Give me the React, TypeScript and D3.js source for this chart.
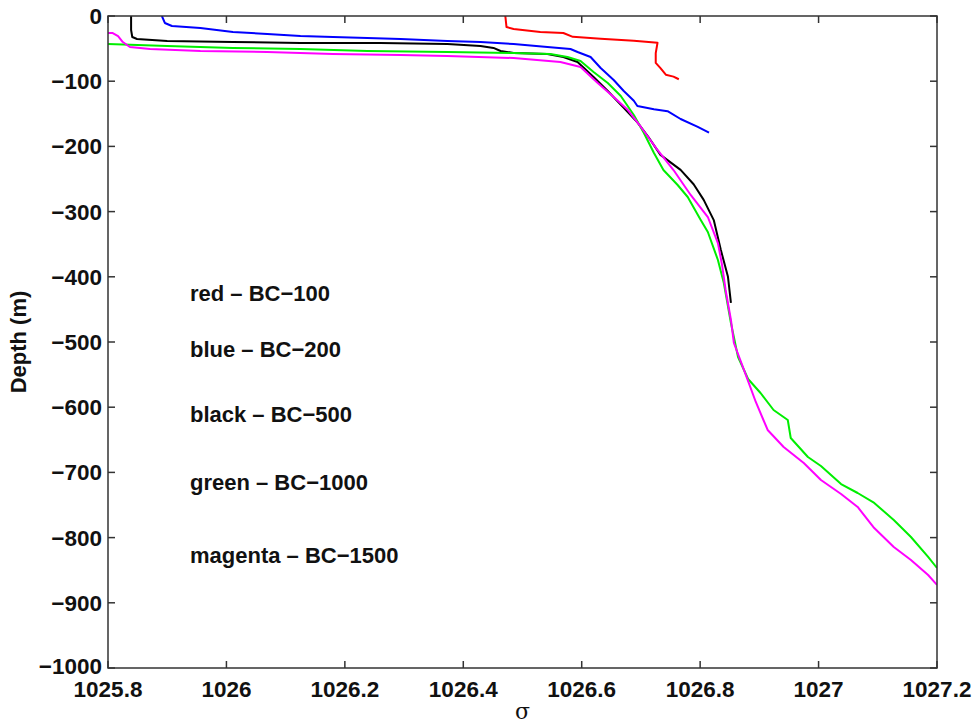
import React from "react";
import * as d3 from "d3";

const xTicks = [1025.8, 1026, 1026.2, 1026.4, 1026.6, 1026.8, 1027, 1027.2];
const xTickLabels = ["1025.8", "1026", "1026.2", "1026.4", "1026.6", "1026.8", "1027", "1027.2"];
const yTicks = [0, -100, -200, -300, -400, -500, -600, -700, -800, -900, -1000];

const redSigma = [1026.471, 1026.473, 1026.485, 1026.53, 1026.569, 1026.585, 1026.632, 1026.688, 1026.728, 1026.725, 1026.725, 1026.733, 1026.742, 1026.755, 1026.764];
const redDepth = [0, -16.9, -19.9, -24.5, -26, -32, -35, -38, -41, -57, -72, -80, -90, -93, -97];

const blueSigma = [1025.891, 1025.896, 1025.908, 1025.956, 1026.011, 1026.069, 1026.125, 1026.18, 1026.238, 1026.294, 1026.373, 1026.429, 1026.485, 1026.542, 1026.581, 1026.593, 1026.615, 1026.632, 1026.654, 1026.671, 1026.688, 1026.694, 1026.722, 1026.745, 1026.767, 1026.796, 1026.815];
const blueDepth = [0, -10.7, -15.3, -18.4, -24.5, -27.6, -30.7, -32.2, -33.7, -35.3, -38.3, -39.9, -42.9, -47.5, -50.6, -55.2, -62.9, -79.8, -98.2, -115, -130, -138, -143, -146, -158, -170, -179];

const blackSigma = [1025.839, 1025.839, 1025.841, 1025.849, 1025.9, 1026.011, 1026.125, 1026.26, 1026.373, 1026.429, 1026.451, 1026.463, 1026.485, 1026.542, 1026.569, 1026.593, 1026.62, 1026.644, 1026.671, 1026.694, 1026.713, 1026.733, 1026.767, 1026.789, 1026.806, 1026.823, 1026.835, 1026.847, 1026.852];
const blackDepth = [0, -21.5, -32.2, -35.3, -38.3, -39.9, -41.4, -41.4, -42.9, -46, -49, -53.7, -56.7, -58.3, -62.9, -70.6, -93.6, -115, -141, -163, -186, -213, -236, -258, -282, -313, -359, -400, -440];

const greenSigma = [1025.8, 1025.9, 1026.011, 1026.125, 1026.238, 1026.373, 1026.485, 1026.547, 1026.576, 1026.598, 1026.62, 1026.644, 1026.666, 1026.688, 1026.705, 1026.722, 1026.738, 1026.762, 1026.779, 1026.801, 1026.813, 1026.83, 1026.84, 1026.852, 1026.864, 1026.881, 1026.902, 1026.924, 1026.948, 1026.953, 1026.982, 1027.004, 1027.038, 1027.066, 1027.094, 1027.127, 1027.156, 1027.185, 1027.2];
const greenDepth = [-42.9, -46, -49.1, -50.6, -53.7, -55.2, -56.7, -58.3, -62.9, -69, -85.9, -102.8, -122.7, -151.8, -179.5, -210.1, -236.2, -259.2, -277.6, -312.9, -331.3, -374.2, -409.5, -470.8, -523, -556.7, -578.2, -604.3, -619.6, -647.2, -676.4, -690.2, -717.8, -731.6, -746.9, -773, -799.1, -829.7, -846.6];

const magentaSigma = [1025.8, 1025.808, 1025.817, 1025.825, 1025.837, 1025.871, 1025.956, 1026.069, 1026.18, 1026.294, 1026.373, 1026.485, 1026.564, 1026.598, 1026.627, 1026.654, 1026.678, 1026.7, 1026.728, 1026.755, 1026.784, 1026.813, 1026.83, 1026.837, 1026.843, 1026.852, 1026.857, 1026.874, 1026.894, 1026.914, 1026.941, 1026.975, 1027.004, 1027.038, 1027.066, 1027.094, 1027.127, 1027.156, 1027.185, 1027.2];
const magentaDepth = [-26.1, -26.1, -30.7, -39.9, -47.5, -50.6, -53.7, -55.2, -58.3, -59.8, -61.3, -64.4, -70.6, -78.2, -102.8, -124.2, -144.2, -170.2, -205.5, -236.2, -274.5, -308.3, -348.2, -381.9, -420.2, -466.2, -501.5, -542.9, -592, -634.9, -661, -685.6, -711.6, -733.1, -753, -785.3, -814.4, -834.3, -857.3, -872.6];

const seriesNames = ["red", "blue", "black", "green", "magenta"];
const seriesColors = ["#ff0000", "#0000ff", "#000000", "#00ee00", "#ff00ff"];
const legendLabels = ["red \u2013 BC\u2212100", "blue \u2013 BC\u2212200", "black \u2013 BC\u2212500", "green \u2013 BC\u22121000", "magenta \u2013 BC\u22121500"];

const seriesSigma = [redSigma, blueSigma, blackSigma, greenSigma, magentaSigma];
const seriesDepth = [redDepth, blueDepth, blackDepth, greenDepth, magentaDepth];

const W = 973;
const H = 724;
const L = 108;
const R = 937;
const T = 16;
const B = 668;

export default function App() {
  const x = d3.scaleLinear().domain([1025.8, 1027.2]).range([L, R]);
  const y = d3.scaleLinear().domain([0, -1000]).range([T, B]);
  const line = d3
    .line<[number, number]>()
    .x((d) => x(d[0]))
    .y((d) => y(d[1]));

  const font = "'Liberation Sans', Arial, Helvetica, sans-serif";
  const tickLen = 7;
  const axisColor = "#333";
  const legendY = [-437, -523, -623, -727, -839];
  const fmtY = (v: number) => (v < 0 ? "\u2212" + Math.abs(v) : String(v));

  return (
    <svg
      width={W}
      height={H}
      style={{ position: "absolute", left: 0, top: 0, background: "#fff" }}
    >
      <rect x={0} y={0} width={W} height={H} fill="#fff" />
      <defs>
        <clipPath id="plotclip">
          <rect x={L} y={T} width={R - L} height={B - T} />
        </clipPath>
      </defs>
      <g clipPath="url(#plotclip)">
        {seriesNames.map((name, i) => {
          const pts: [number, number][] = seriesSigma[i].map((s, j) => [s, seriesDepth[i][j]]);
          return (
            <path
              key={name}
              d={line(pts) || ""}
              fill="none"
              stroke={seriesColors[i]}
              strokeWidth={2}
              strokeLinejoin="round"
            />
          );
        })}
      </g>
      <rect x={L} y={T} width={R - L} height={B - T} fill="none" stroke={axisColor} strokeWidth={1.5} />
      {xTicks.map((t, i) => (
        <g key={"xt" + i}>
          <line x1={x(t)} x2={x(t)} y1={B} y2={B - tickLen} stroke={axisColor} strokeWidth={1.5} />
          <line x1={x(t)} x2={x(t)} y1={T} y2={T + tickLen} stroke={axisColor} strokeWidth={1.5} />
          <text
            x={x(t)}
            y={697}
            textAnchor="middle"
            fontFamily={font}
            fontWeight="bold"
            fontSize={22.5}
            fill="#111"
          >
            {xTickLabels[i]}
          </text>
        </g>
      ))}
      {yTicks.map((t, i) => (
        <g key={"yt" + i}>
          <line x1={L} x2={L + tickLen} y1={y(t)} y2={y(t)} stroke={axisColor} strokeWidth={1.5} />
          <line x1={R} x2={R - tickLen} y1={y(t)} y2={y(t)} stroke={axisColor} strokeWidth={1.5} />
          <text
            x={102}
            y={y(t) + (t === -1000 ? 6 : 8)}
            textAnchor="end"
            fontFamily={font}
            fontWeight="bold"
            fontSize={22.5}
            fill="#111"
          >
            {fmtY(t)}
          </text>
        </g>
      ))}
      {legendLabels.map((lab, i) => (
        <text
          key={"lg" + i}
          x={190}
          y={y(legendY[i])}
          fontFamily={font}
          fontWeight="bold"
          fontSize={22}
          fill="#111"
        >
          {lab}
        </text>
      ))}
      <text
        transform={`translate(26, ${(T + B) / 2}) rotate(-90)`}
        textAnchor="middle"
        fontFamily={font}
        fontWeight="bold"
        fontSize={22}
        fill="#111"
      >
        Depth (m)
      </text>
      <text
        x={(L + R) / 2}
        y={719}
        textAnchor="middle"
        fontFamily="'DejaVu Serif', 'Liberation Serif', serif"
        fontSize={22}
        fill="#111"
      >
        σ
      </text>
    </svg>
  );
}
